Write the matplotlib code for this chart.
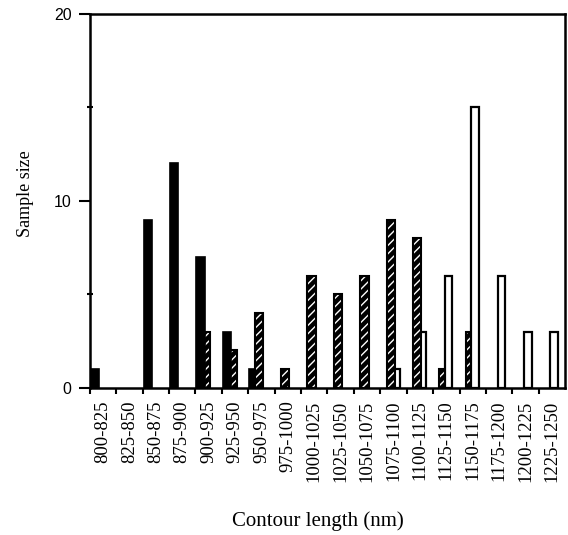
import numpy as np
import matplotlib
matplotlib.use("Agg")
import matplotlib.pyplot as plt

bins = ["800-825", "825-850", "850-875", "875-900", "900-925", "925-950",
        "950-975", "975-1000", "1000-1025", "1025-1050", "1050-1075",
        "1075-1100", "1100-1125", "1125-1150", "1150-1175", "1175-1200",
        "1200-1225", "1225-1250"]
solid = [1, 0, 9, 12, 7, 3, 1, 0, 0, 0, 0, 0, 0, 0, 0, 0, 0, 0]
hatched = [0, 0, 0, 0, 3, 2, 4, 1, 6, 5, 6, 9, 8, 1, 3, 0, 0, 0]
open_ = [0, 0, 0, 0, 0, 0, 0, 0, 0, 0, 0, 1, 3, 6, 15, 6, 3, 3]

serif = ["Liberation Serif", "DejaVu Serif"]
sans = ["Liberation Sans", "DejaVu Sans"]

fig = plt.figure(figsize=(5.68, 5.35), dpi=100)
ax = fig.add_axes([0.158, 0.275, 0.837, 0.699])

x = np.arange(len(bins))


def nonzero(vals, off):
    v = np.array(vals)
    keep = v > 0
    return x[keep] + off, v[keep]


# taller bar sits in front inside each group, as in the original
def put_front(bars, vals):
    for b, v in zip(bars, vals):
        b.set_zorder(2 + v)


xs, vs = nonzero(solid, 0.20)
b1 = ax.bar(xs, vs, 0.32, color="black", edgecolor="black", linewidth=1.2)
put_front(b1, vs)

xs, vs = nonzero(hatched, 0.40)
b2 = ax.bar(xs, vs, 0.32, color="black", edgecolor="white",
            hatch="////", linewidth=0)
put_front(b2, vs)
b2o = ax.bar(xs, vs, 0.32, fill=False, edgecolor="black", linewidth=1.5)
put_front(b2o, vs)

xs, vs = nonzero(open_, 0.585)
b3 = ax.bar(xs, vs, 0.29, color="white", edgecolor="black", linewidth=1.6)
put_front(b3, vs)

ax.set_xlim(0, len(bins))
ax.set_ylim(0, 20)
ax.set_xticks(x, minor=False)
ax.set_xticklabels([])
ax.set_xticks(x + 0.5, minor=True)
ax.set_xticklabels(bins, minor=True, rotation=90, family=serif, fontsize=13.5)
ax.tick_params(axis="x", which="major", length=4, width=1.5, direction="out")
ax.tick_params(axis="x", which="minor", length=0, pad=9)

ax.set_yticks([0, 10, 20])
ax.set_yticklabels(["0", "10", "20"], family=sans, fontsize=11.5)
ax.set_yticks([5, 15], minor=True)
ax.tick_params(axis="y", which="major", length=8, width=1.5, direction="out", pad=5)
ax.tick_params(axis="y", which="minor", length=4, width=1.5, direction="inout")

for s in ax.spines.values():
    s.set_linewidth(1.8)

ax.set_ylabel("Sample size", family=serif, fontsize=13)
ax.yaxis.set_label_coords(-0.117, 0.52)
fig.text(0.56, 0.008, "Contour length (nm)", family=serif, fontsize=15,
         ha="center", va="bottom")

fig.savefig("out.png", dpi=100)
